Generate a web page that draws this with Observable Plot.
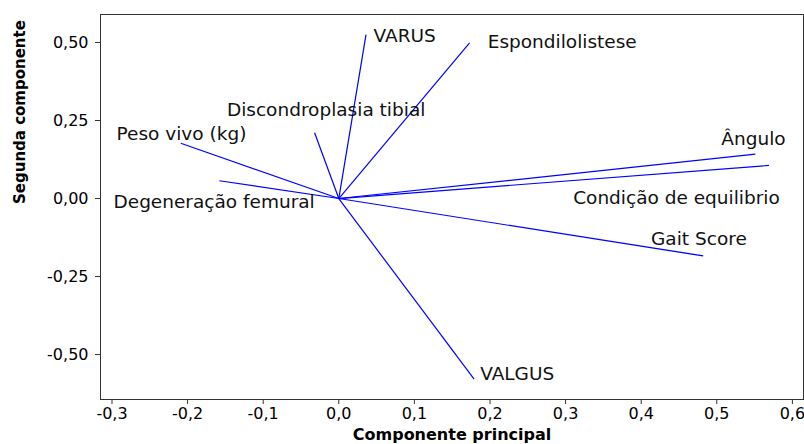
<!DOCTYPE html>
<html>
<head>
<meta charset="utf-8">
<script src="https://cdn.jsdelivr.net/npm/d3@7"></script>
<script src="https://cdn.jsdelivr.net/npm/@observablehq/plot@0.6"></script>
<style>
  html, body { margin: 0; padding: 0; background: #fff; }
  #chart svg { display: block; }
</style>
</head>
<body>
<div id="chart"></div>
<script>
// Variables (loadings on PC1 / PC2)
const variables = ["VARUS", "Espondilolistese", "Discondroplasia tibial", "Peso vivo (kg)", "Degeneração femural", "Ângulo", "Condição de equilibrio", "Gait Score", "VALGUS"];
const pc1 = [0.036, 0.173, -0.032, -0.209, -0.158, 0.551, 0.569, 0.482, 0.179];
const pc2 = [0.525, 0.499, 0.211, 0.177, 0.057, 0.142, 0.106, -0.184, -0.579];
// label anchor positions (data units)
const labelX = [0.046, 0.197, -0.148, -0.294, -0.298, 0.506, 0.310, 0.413, 0.187];
const labelY = [0.519, 0.501, 0.285, 0.207, -0.012, 0.192, 0.002, -0.129, -0.564];

const xTicks = [-0.3, -0.2, -0.1, 0.0, 0.1, 0.2, 0.3, 0.4, 0.5, 0.6];
const yTicks = [-0.5, -0.25, 0, 0.25, 0.5];
const xTitle = "Componente principal";
const yTitle = "Segunda componente";

const rows = variables.map((v, i) => ({name: v, x: pc1[i], y: pc2[i], lx: labelX[i], ly: labelY[i]}));
const fmtX = d => d3.format(".1f")(d).replace("−", "-").replace(".", ",");
const fmtY = d => d3.format(".2f")(d).replace("−", "-").replace(".", ",");

const chart = Plot.plot({
  width: 804,
  height: 444,
  marginLeft: 100,
  marginRight: 1,
  marginTop: 14,
  marginBottom: 45,
  style: {fontFamily: "DejaVu Sans", background: "#fff", color: "#000"},
  x: {domain: [-0.3152, 0.6147]},
  y: {domain: [-0.644, 0.5897]},
  marks: [
    Plot.frame({stroke: "#333", strokeWidth: 1}),
    Plot.axisX({ticks: xTicks, tickFormat: fmtX, tickSize: 5, tickPadding: 3, fontSize: 16, label: null, stroke: "#333"}),
    Plot.axisY({ticks: yTicks, tickFormat: fmtY, tickSize: 5, tickPadding: 7, fontSize: 16, label: null, stroke: "#333"}),
    Plot.link(rows, {x1: () => 0, y1: () => 0, x2: "x", y2: "y", stroke: "#0000ff", strokeWidth: 1.2}),
    Plot.text(rows, {x: "lx", y: "ly", text: "name", textAnchor: "start", fontSize: 18.5, fill: "#111"}),
    Plot.text([xTitle], {frameAnchor: "bottom", dy: 40, fontSize: 16, fontWeight: "bold", fill: "#000"}),
    Plot.text([yTitle], {frameAnchor: "left", rotate: -90, dx: -80.5, dy: -3, fontSize: 15, fontWeight: "bold", fill: "#000"})
  ]
});
document.getElementById("chart").appendChild(chart);
</script>
</body>
</html>
